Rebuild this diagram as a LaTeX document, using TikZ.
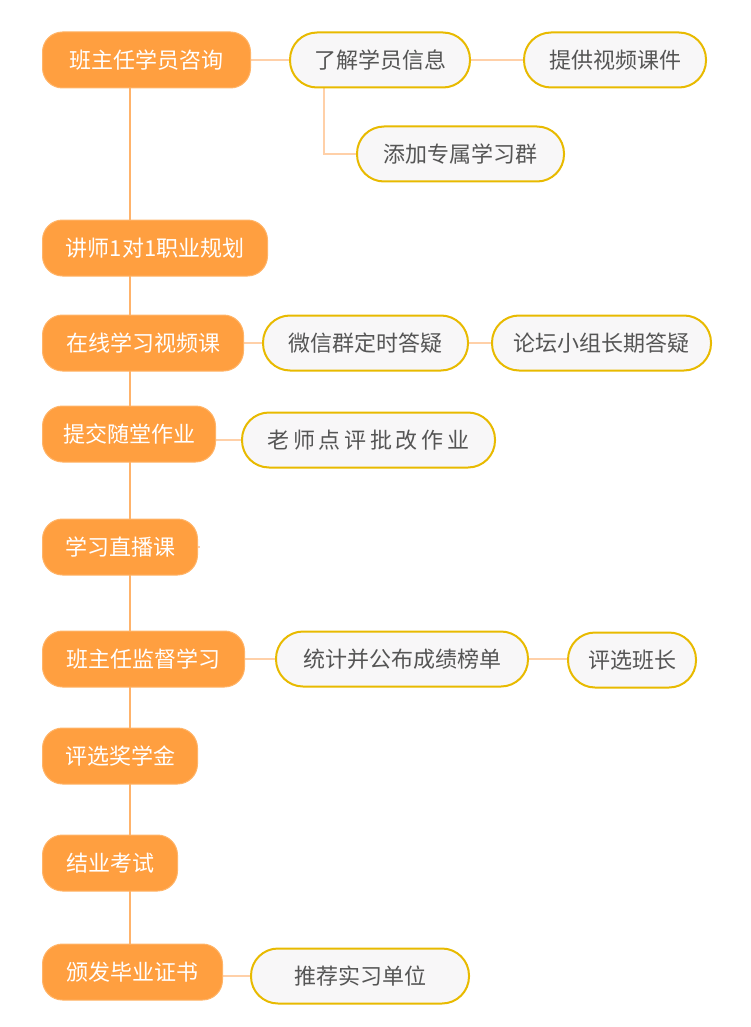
\documentclass[tikz,border=0pt]{standalone}
\usepackage{fontspec}
\setmainfont{Noto Sans CJK SC}
\usetikzlibrary{backgrounds}
\definecolor{mainfill}{HTML}{FF9F40}
\definecolor{mainedge}{HTML}{FFB468}
\definecolor{trunkcol}{HTML}{FFB36B}
\definecolor{linkcol}{HTML}{FFD0A8}
\definecolor{subfill}{HTML}{F8F7F8}
\definecolor{subedge}{HTML}{E8BA00}
\definecolor{subtext}{HTML}{555555}
\tikzset{
  mainbox/.style={anchor=west, fill=mainfill, draw=mainedge, line width=1pt,
    rounded corners=20pt, minimum height=56pt, inner sep=0pt, text=white,
    font=\fontsize{22pt}{26pt}\selectfont},
  subbox/.style={anchor=west, fill=subfill, draw=subedge, line width=2pt,
    rounded corners=27pt, minimum height=55pt, inner sep=0pt, text=subtext,
    font=\fontsize{22pt}{26pt}\selectfont},
  trunk/.style={draw=trunkcol, line width=2.5pt},
  link/.style={draw=linkcol, line width=2.5pt},
}
\begin{document}
\begin{tikzpicture}[x=1pt,y=-1pt]
\useasboundingbox (0,0) rectangle (750,1027);
% main nodes
\node[mainbox, minimum width=208pt] (m1) at (42,60) {班主任学员咨询};
\node[mainbox, minimum width=225pt] (m2) at (42,248) {讲师1对1职业规划};
\node[mainbox, minimum width=201pt] (m3) at (42,343) {在线学习视频课};
\node[mainbox, minimum width=173pt] (m4) at (42,434) {提交随堂作业};
\node[mainbox, minimum width=155pt] (m5) at (42,547) {学习直播课};
\node[mainbox, minimum width=202pt] (m6) at (42,659) {班主任监督学习};
\node[mainbox, minimum width=155pt] (m7) at (42,756) {评选奖学金};
\node[mainbox, minimum width=135pt] (m8) at (42,863) {结业考试};
\node[mainbox, minimum width=180pt] (m9) at (42,972) {颁发毕业证书};
% sub nodes
\node[subbox, minimum width=180pt] (a1) at (289,60) {了解学员信息};
\node[subbox, minimum width=182pt] (a2) at (523,60) {提供视频课件};
\node[subbox, minimum width=207pt] (a3) at (356,154) {添加专属学习群};
\node[subbox, minimum width=205pt] (c1) at (262,343) {微信群定时答疑};
\node[subbox, minimum width=219pt] (c2) at (491,343) {论坛小组长期答疑};
\node[subbox, minimum width=253pt] (d1) at (241,440) {老\,师\,点\,评\,批\,改\,作\,业};
\node[subbox, minimum width=252pt] (f1) at (275,659) {统计并公布成绩榜单};
\node[subbox, minimum width=128pt] (f2) at (567,660) {评选班长};
\node[subbox, minimum width=218pt] (i1) at (250,976) {推荐实习单位};
\coordinate (tx) at (130,0);
\coordinate (bx) at (324,0);
\coordinate (stub) at (200,547);
\begin{scope}[on background layer]
\draw[trunk] (m1.south -| tx) -- (m9.north -| tx);
\draw[link] (m1.east) -- (a1.west);
\draw[link] (a1.east) -- (a2.west);
\draw[link] (a1.south -| bx) |- (a3.west);
\draw[link] (m3.east) -- (c1.west);
\draw[link] (c1.east) -- (c2.west);
\draw[link] (m4.east |- d1.west) -- (d1.west);
\draw[link] (m5.east) -- (stub);
\draw[link] (m6.east) -- (f1.west);
\draw[link] (f1.east) -- (f2.west |- f1.east);
\draw[link] (m9.east |- i1.west) -- (i1.west);
\end{scope}
\end{tikzpicture}
\end{document}
